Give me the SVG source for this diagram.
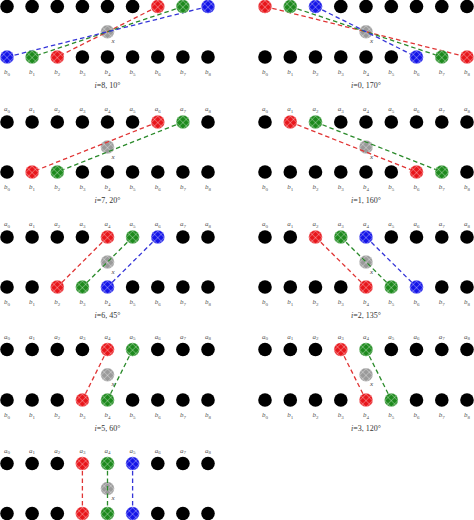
<svg xmlns="http://www.w3.org/2000/svg" xmlns:xlink="http://www.w3.org/1999/xlink" width="474" height="520" viewBox="0 0 474 520">
<style>
.lb{font-family:"Liberation Serif",serif;font-size:7px;fill:#555;text-anchor:middle;font-style:italic}
.lb tspan.s{font-size:5px;font-style:normal}
.cap{font-family:"Liberation Serif",serif;font-size:8px;fill:#333;text-anchor:middle}
.cap tspan.i{font-style:italic}
.xl{font-family:"Liberation Serif",serif;font-size:7px;fill:#444;font-style:italic}
.c{fill:none;stroke-width:1.3;stroke-dasharray:4.5 3}
.cr{stroke:#e03535}
.cg{stroke:#2a8a2a}
.cb{stroke:#3535d8}
</style>
<defs>
<pattern id="hatch" patternUnits="userSpaceOnUse" width="4.6" height="4.6" patternTransform="rotate(45)">
<line x1="0" y1="0" x2="0" y2="4.6" stroke="#fff" stroke-width="0.7" stroke-opacity="0.8"/>
<line x1="0" y1="0" x2="4.6" y2="0" stroke="#fff" stroke-width="0.7" stroke-opacity="0.8"/>
</pattern>
<circle id="k" r="6.8" fill="#000"/>
<g id="hr"><circle r="6.8" fill="#e8161b"/><circle r="6.6" fill="url(#hatch)" stroke="#fff" stroke-opacity="0.5" stroke-width="0.5"/></g>
<g id="hg"><circle r="6.8" fill="#1d8a1d"/><circle r="6.6" fill="url(#hatch)" stroke="#fff" stroke-opacity="0.5" stroke-width="0.5"/></g>
<g id="hb"><circle r="6.8" fill="#1414e8"/><circle r="6.6" fill="url(#hatch)" stroke="#fff" stroke-opacity="0.5" stroke-width="0.5"/></g>
<g id="hx"><circle r="6.8" fill="#9a9a9a"/><circle r="6.6" fill="url(#hatch)" stroke="#fff" stroke-opacity="0.5" stroke-width="0.5"/></g>
</defs>

<!-- centre x nodes -->
<g id="x-nodes">
<g id="xL1"><use href="#hx" x="107.5" y="31.75"/><text class="xl" x="111.5" y="43">x</text></g>
<g id="xR1"><use href="#hx" x="366" y="31.75"/><text class="xl" x="370" y="43">x</text></g>
<g id="xL2"><use href="#hx" x="107.5" y="147"/><text class="xl" x="111.5" y="158.5">x</text></g>
<g id="xR2"><use href="#hx" x="366" y="147"/><text class="xl" x="370" y="158.5">x</text></g>
<g id="xL3"><use href="#hx" x="107.5" y="262"/><text class="xl" x="111.5" y="273.5">x</text></g>
<g id="xR3"><use href="#hx" x="366" y="262"/><text class="xl" x="370" y="273.5">x</text></g>
<g id="xL4"><use href="#hx" x="107.5" y="374.75"/><text class="xl" x="111.5" y="386">x</text></g>
<g id="xR4"><use href="#hx" x="366" y="374.75"/><text class="xl" x="370" y="386">x</text></g>
<g id="xL5"><use href="#hx" x="107.5" y="488.5"/><text class="xl" x="111.5" y="500">x</text></g>
</g>

<!-- connectors -->
<g id="connectors">
<line class="c cr" x1="157.8" y1="6.5" x2="57.3" y2="57"/>
<line class="c cg" x1="182.9" y1="6.5" x2="32.1" y2="57"/>
<line class="c cb" x1="208" y1="6.5" x2="7" y2="57"/>
<line class="c cr" x1="265" y1="6.5" x2="467" y2="57"/>
<line class="c cg" x1="290.3" y1="6.5" x2="441.8" y2="57"/>
<line class="c cb" x1="315.5" y1="6.5" x2="416.5" y2="57"/>
<line class="c cr" x1="157.8" y1="122" x2="32.1" y2="172"/>
<line class="c cg" x1="182.9" y1="122" x2="57.3" y2="172"/>
<line class="c cr" x1="290.3" y1="122" x2="416.5" y2="172"/>
<line class="c cg" x1="315.5" y1="122" x2="441.8" y2="172"/>
<line class="c cr" x1="107.5" y1="237" x2="57.3" y2="287"/>
<line class="c cg" x1="132.6" y1="237" x2="82.4" y2="287"/>
<line class="c cb" x1="157.8" y1="237" x2="107.5" y2="287"/>
<line class="c cr" x1="315.5" y1="237" x2="366" y2="287"/>
<line class="c cg" x1="340.8" y1="237" x2="391.3" y2="287"/>
<line class="c cb" x1="366" y1="237" x2="416.5" y2="287"/>
<line class="c cr" x1="107.5" y1="349.5" x2="82.4" y2="400"/>
<line class="c cg" x1="132.6" y1="349.5" x2="107.5" y2="400"/>
<line class="c cr" x1="340.8" y1="349.5" x2="366" y2="400"/>
<line class="c cg" x1="366" y1="349.5" x2="391.3" y2="400"/>
<line class="c cr" x1="82.4" y1="463.5" x2="82.4" y2="513.5"/>
<line class="c cg" x1="107.5" y1="463.5" x2="107.5" y2="513.5"/>
<line class="c cb" x1="132.6" y1="463.5" x2="132.6" y2="513.5"/>
</g>

<!-- Panel L1 : i=8, 10° -->
<g id="panelL1">
<use href="#k" x="7" y="6.5"/><use href="#k" x="32.1" y="6.5"/><use href="#k" x="57.3" y="6.5"/><use href="#k" x="82.4" y="6.5"/><use href="#k" x="107.5" y="6.5"/><use href="#k" x="132.6" y="6.5"/>
<use id="L1a6" href="#hr" x="157.8" y="6.5"/><use id="L1a7" href="#hg" x="182.9" y="6.5"/><use id="L1a8" href="#hb" x="208" y="6.5"/>
<use id="L1b0" href="#hb" x="7" y="57"/><use id="L1b1" href="#hg" x="32.1" y="57"/><use id="L1b2" href="#hr" x="57.3" y="57"/>
<use href="#k" x="82.4" y="57"/><use href="#k" x="107.5" y="57"/><use href="#k" x="132.6" y="57"/><use href="#k" x="157.8" y="57"/><use href="#k" x="182.9" y="57"/><use href="#k" x="208" y="57"/>
<text class="lb" x="7" y="74">b<tspan class="s" dy="1.5">0</tspan></text><text class="lb" x="32.1" y="74">b<tspan class="s" dy="1.5">1</tspan></text><text class="lb" x="57.3" y="74">b<tspan class="s" dy="1.5">2</tspan></text><text class="lb" x="82.4" y="74">b<tspan class="s" dy="1.5">3</tspan></text><text class="lb" x="107.5" y="74">b<tspan class="s" dy="1.5">4</tspan></text><text class="lb" x="132.6" y="74">b<tspan class="s" dy="1.5">5</tspan></text><text class="lb" x="157.8" y="74">b<tspan class="s" dy="1.5">6</tspan></text><text class="lb" x="182.9" y="74">b<tspan class="s" dy="1.5">7</tspan></text><text class="lb" x="208" y="74">b<tspan class="s" dy="1.5">8</tspan></text>
<text class="cap" x="107.5" y="88"><tspan class="i">i</tspan>=8, 10°</text>
</g>

<!-- Panel R1 : i=0, 170° -->
<g id="panelR1">
<use id="R1a0" href="#hr" x="265" y="6.5"/><use id="R1a1" href="#hg" x="290.3" y="6.5"/><use id="R1a2" href="#hb" x="315.5" y="6.5"/>
<use href="#k" x="340.8" y="6.5"/><use href="#k" x="366" y="6.5"/><use href="#k" x="391.3" y="6.5"/><use href="#k" x="416.5" y="6.5"/><use href="#k" x="441.8" y="6.5"/><use href="#k" x="467" y="6.5"/>
<use href="#k" x="265" y="57"/><use href="#k" x="290.3" y="57"/><use href="#k" x="315.5" y="57"/><use href="#k" x="340.8" y="57"/><use href="#k" x="366" y="57"/><use href="#k" x="391.3" y="57"/>
<use id="R1b6" href="#hb" x="416.5" y="57"/><use id="R1b7" href="#hg" x="441.8" y="57"/><use id="R1b8" href="#hr" x="467" y="57"/>
<text class="lb" x="265" y="74">b<tspan class="s" dy="1.5">0</tspan></text><text class="lb" x="290.3" y="74">b<tspan class="s" dy="1.5">1</tspan></text><text class="lb" x="315.5" y="74">b<tspan class="s" dy="1.5">2</tspan></text><text class="lb" x="340.8" y="74">b<tspan class="s" dy="1.5">3</tspan></text><text class="lb" x="366" y="74">b<tspan class="s" dy="1.5">4</tspan></text><text class="lb" x="391.3" y="74">b<tspan class="s" dy="1.5">5</tspan></text><text class="lb" x="416.5" y="74">b<tspan class="s" dy="1.5">6</tspan></text><text class="lb" x="441.8" y="74">b<tspan class="s" dy="1.5">7</tspan></text><text class="lb" x="467" y="74">b<tspan class="s" dy="1.5">8</tspan></text>
<text class="cap" x="366" y="88"><tspan class="i">i</tspan>=0, 170°</text>
</g>

<!-- Panel L2 : i=7, 20° -->
<g id="panelL2">
<text class="lb" x="7" y="111">a<tspan class="s" dy="1.5">0</tspan></text><text class="lb" x="32.1" y="111">a<tspan class="s" dy="1.5">1</tspan></text><text class="lb" x="57.3" y="111">a<tspan class="s" dy="1.5">2</tspan></text><text class="lb" x="82.4" y="111">a<tspan class="s" dy="1.5">3</tspan></text><text class="lb" x="107.5" y="111">a<tspan class="s" dy="1.5">4</tspan></text><text class="lb" x="132.6" y="111">a<tspan class="s" dy="1.5">5</tspan></text><text class="lb" x="157.8" y="111">a<tspan class="s" dy="1.5">6</tspan></text><text class="lb" x="182.9" y="111">a<tspan class="s" dy="1.5">7</tspan></text><text class="lb" x="208" y="111">a<tspan class="s" dy="1.5">8</tspan></text>
<use href="#k" x="7" y="122"/><use href="#k" x="32.1" y="122"/><use href="#k" x="57.3" y="122"/><use href="#k" x="82.4" y="122"/><use href="#k" x="107.5" y="122"/><use href="#k" x="132.6" y="122"/>
<use id="L2a6" href="#hr" x="157.8" y="122"/><use id="L2a7" href="#hg" x="182.9" y="122"/><use href="#k" x="208" y="122"/>
<use href="#k" x="7" y="172"/><use id="L2b1" href="#hr" x="32.1" y="172"/><use id="L2b2" href="#hg" x="57.3" y="172"/>
<use href="#k" x="82.4" y="172"/><use href="#k" x="107.5" y="172"/><use href="#k" x="132.6" y="172"/><use href="#k" x="157.8" y="172"/><use href="#k" x="182.9" y="172"/><use href="#k" x="208" y="172"/>
<text class="lb" x="7" y="189">b<tspan class="s" dy="1.5">0</tspan></text><text class="lb" x="32.1" y="189">b<tspan class="s" dy="1.5">1</tspan></text><text class="lb" x="57.3" y="189">b<tspan class="s" dy="1.5">2</tspan></text><text class="lb" x="82.4" y="189">b<tspan class="s" dy="1.5">3</tspan></text><text class="lb" x="107.5" y="189">b<tspan class="s" dy="1.5">4</tspan></text><text class="lb" x="132.6" y="189">b<tspan class="s" dy="1.5">5</tspan></text><text class="lb" x="157.8" y="189">b<tspan class="s" dy="1.5">6</tspan></text><text class="lb" x="182.9" y="189">b<tspan class="s" dy="1.5">7</tspan></text><text class="lb" x="208" y="189">b<tspan class="s" dy="1.5">8</tspan></text>
<text class="cap" x="107.5" y="203"><tspan class="i">i</tspan>=7, 20°</text>
</g>

<!-- Panel R2 : i=1, 160° -->
<g id="panelR2">
<text class="lb" x="265" y="111">a<tspan class="s" dy="1.5">0</tspan></text><text class="lb" x="290.3" y="111">a<tspan class="s" dy="1.5">1</tspan></text><text class="lb" x="315.5" y="111">a<tspan class="s" dy="1.5">2</tspan></text><text class="lb" x="340.8" y="111">a<tspan class="s" dy="1.5">3</tspan></text><text class="lb" x="366" y="111">a<tspan class="s" dy="1.5">4</tspan></text><text class="lb" x="391.3" y="111">a<tspan class="s" dy="1.5">5</tspan></text><text class="lb" x="416.5" y="111">a<tspan class="s" dy="1.5">6</tspan></text><text class="lb" x="441.8" y="111">a<tspan class="s" dy="1.5">7</tspan></text><text class="lb" x="467" y="111">a<tspan class="s" dy="1.5">8</tspan></text>
<use href="#k" x="265" y="122"/><use id="R2a1" href="#hr" x="290.3" y="122"/><use id="R2a2" href="#hg" x="315.5" y="122"/>
<use href="#k" x="340.8" y="122"/><use href="#k" x="366" y="122"/><use href="#k" x="391.3" y="122"/><use href="#k" x="416.5" y="122"/><use href="#k" x="441.8" y="122"/><use href="#k" x="467" y="122"/>
<use href="#k" x="265" y="172"/><use href="#k" x="290.3" y="172"/><use href="#k" x="315.5" y="172"/><use href="#k" x="340.8" y="172"/><use href="#k" x="366" y="172"/><use href="#k" x="391.3" y="172"/>
<use id="R2b6" href="#hr" x="416.5" y="172"/><use id="R2b7" href="#hg" x="441.8" y="172"/><use href="#k" x="467" y="172"/>
<text class="lb" x="265" y="189">b<tspan class="s" dy="1.5">0</tspan></text><text class="lb" x="290.3" y="189">b<tspan class="s" dy="1.5">1</tspan></text><text class="lb" x="315.5" y="189">b<tspan class="s" dy="1.5">2</tspan></text><text class="lb" x="340.8" y="189">b<tspan class="s" dy="1.5">3</tspan></text><text class="lb" x="366" y="189">b<tspan class="s" dy="1.5">4</tspan></text><text class="lb" x="391.3" y="189">b<tspan class="s" dy="1.5">5</tspan></text><text class="lb" x="416.5" y="189">b<tspan class="s" dy="1.5">6</tspan></text><text class="lb" x="441.8" y="189">b<tspan class="s" dy="1.5">7</tspan></text><text class="lb" x="467" y="189">b<tspan class="s" dy="1.5">8</tspan></text>
<text class="cap" x="366" y="203"><tspan class="i">i</tspan>=1, 160°</text>
</g>

<!-- Panel L3 : i=6, 45° -->
<g id="panelL3">
<text class="lb" x="7" y="226">a<tspan class="s" dy="1.5">0</tspan></text><text class="lb" x="32.1" y="226">a<tspan class="s" dy="1.5">1</tspan></text><text class="lb" x="57.3" y="226">a<tspan class="s" dy="1.5">2</tspan></text><text class="lb" x="82.4" y="226">a<tspan class="s" dy="1.5">3</tspan></text><text class="lb" x="107.5" y="226">a<tspan class="s" dy="1.5">4</tspan></text><text class="lb" x="132.6" y="226">a<tspan class="s" dy="1.5">5</tspan></text><text class="lb" x="157.8" y="226">a<tspan class="s" dy="1.5">6</tspan></text><text class="lb" x="182.9" y="226">a<tspan class="s" dy="1.5">7</tspan></text><text class="lb" x="208" y="226">a<tspan class="s" dy="1.5">8</tspan></text>
<use href="#k" x="7" y="237"/><use href="#k" x="32.1" y="237"/><use href="#k" x="57.3" y="237"/><use href="#k" x="82.4" y="237"/>
<use id="L3a4" href="#hr" x="107.5" y="237"/><use id="L3a5" href="#hg" x="132.6" y="237"/><use id="L3a6" href="#hb" x="157.8" y="237"/>
<use href="#k" x="182.9" y="237"/><use href="#k" x="208" y="237"/>
<use href="#k" x="7" y="287"/><use href="#k" x="32.1" y="287"/>
<use id="L3b2" href="#hr" x="57.3" y="287"/><use id="L3b3" href="#hg" x="82.4" y="287"/><use id="L3b4" href="#hb" x="107.5" y="287"/>
<use href="#k" x="132.6" y="287"/><use href="#k" x="157.8" y="287"/><use href="#k" x="182.9" y="287"/><use href="#k" x="208" y="287"/>
<text class="lb" x="7" y="304">b<tspan class="s" dy="1.5">0</tspan></text><text class="lb" x="32.1" y="304">b<tspan class="s" dy="1.5">1</tspan></text><text class="lb" x="57.3" y="304">b<tspan class="s" dy="1.5">2</tspan></text><text class="lb" x="82.4" y="304">b<tspan class="s" dy="1.5">3</tspan></text><text class="lb" x="107.5" y="304">b<tspan class="s" dy="1.5">4</tspan></text><text class="lb" x="132.6" y="304">b<tspan class="s" dy="1.5">5</tspan></text><text class="lb" x="157.8" y="304">b<tspan class="s" dy="1.5">6</tspan></text><text class="lb" x="182.9" y="304">b<tspan class="s" dy="1.5">7</tspan></text><text class="lb" x="208" y="304">b<tspan class="s" dy="1.5">8</tspan></text>
<text class="cap" x="107.5" y="318"><tspan class="i">i</tspan>=6, 45°</text>
</g>

<!-- Panel R3 : i=2, 135° -->
<g id="panelR3">
<text class="lb" x="265" y="226">a<tspan class="s" dy="1.5">0</tspan></text><text class="lb" x="290.3" y="226">a<tspan class="s" dy="1.5">1</tspan></text><text class="lb" x="315.5" y="226">a<tspan class="s" dy="1.5">2</tspan></text><text class="lb" x="340.8" y="226">a<tspan class="s" dy="1.5">3</tspan></text><text class="lb" x="366" y="226">a<tspan class="s" dy="1.5">4</tspan></text><text class="lb" x="391.3" y="226">a<tspan class="s" dy="1.5">5</tspan></text><text class="lb" x="416.5" y="226">a<tspan class="s" dy="1.5">6</tspan></text><text class="lb" x="441.8" y="226">a<tspan class="s" dy="1.5">7</tspan></text><text class="lb" x="467" y="226">a<tspan class="s" dy="1.5">8</tspan></text>
<use href="#k" x="265" y="237"/><use href="#k" x="290.3" y="237"/>
<use id="R3a2" href="#hr" x="315.5" y="237"/><use id="R3a3" href="#hg" x="340.8" y="237"/><use id="R3a4" href="#hb" x="366" y="237"/>
<use href="#k" x="391.3" y="237"/><use href="#k" x="416.5" y="237"/><use href="#k" x="441.8" y="237"/><use href="#k" x="467" y="237"/>
<use href="#k" x="265" y="287"/><use href="#k" x="290.3" y="287"/><use href="#k" x="315.5" y="287"/><use href="#k" x="340.8" y="287"/>
<use id="R3b4" href="#hr" x="366" y="287"/><use id="R3b5" href="#hg" x="391.3" y="287"/><use id="R3b6" href="#hb" x="416.5" y="287"/>
<use href="#k" x="441.8" y="287"/><use href="#k" x="467" y="287"/>
<text class="lb" x="265" y="304">b<tspan class="s" dy="1.5">0</tspan></text><text class="lb" x="290.3" y="304">b<tspan class="s" dy="1.5">1</tspan></text><text class="lb" x="315.5" y="304">b<tspan class="s" dy="1.5">2</tspan></text><text class="lb" x="340.8" y="304">b<tspan class="s" dy="1.5">3</tspan></text><text class="lb" x="366" y="304">b<tspan class="s" dy="1.5">4</tspan></text><text class="lb" x="391.3" y="304">b<tspan class="s" dy="1.5">5</tspan></text><text class="lb" x="416.5" y="304">b<tspan class="s" dy="1.5">6</tspan></text><text class="lb" x="441.8" y="304">b<tspan class="s" dy="1.5">7</tspan></text><text class="lb" x="467" y="304">b<tspan class="s" dy="1.5">8</tspan></text>
<text class="cap" x="366" y="318"><tspan class="i">i</tspan>=2, 135°</text>
</g>

<!-- Panel L4 : i=5, 60° -->
<g id="panelL4">
<text class="lb" x="7" y="338.5">a<tspan class="s" dy="1.5">0</tspan></text><text class="lb" x="32.1" y="338.5">a<tspan class="s" dy="1.5">1</tspan></text><text class="lb" x="57.3" y="338.5">a<tspan class="s" dy="1.5">2</tspan></text><text class="lb" x="82.4" y="338.5">a<tspan class="s" dy="1.5">3</tspan></text><text class="lb" x="107.5" y="338.5">a<tspan class="s" dy="1.5">4</tspan></text><text class="lb" x="132.6" y="338.5">a<tspan class="s" dy="1.5">5</tspan></text><text class="lb" x="157.8" y="338.5">a<tspan class="s" dy="1.5">6</tspan></text><text class="lb" x="182.9" y="338.5">a<tspan class="s" dy="1.5">7</tspan></text><text class="lb" x="208" y="338.5">a<tspan class="s" dy="1.5">8</tspan></text>
<use href="#k" x="7" y="349.5"/><use href="#k" x="32.1" y="349.5"/><use href="#k" x="57.3" y="349.5"/><use href="#k" x="82.4" y="349.5"/>
<use id="L4a4" href="#hr" x="107.5" y="349.5"/><use id="L4a5" href="#hg" x="132.6" y="349.5"/>
<use href="#k" x="157.8" y="349.5"/><use href="#k" x="182.9" y="349.5"/><use href="#k" x="208" y="349.5"/>
<use href="#k" x="7" y="400"/><use href="#k" x="32.1" y="400"/><use href="#k" x="57.3" y="400"/>
<use id="L4b3" href="#hr" x="82.4" y="400"/><use id="L4b4" href="#hg" x="107.5" y="400"/>
<use href="#k" x="132.6" y="400"/><use href="#k" x="157.8" y="400"/><use href="#k" x="182.9" y="400"/><use href="#k" x="208" y="400"/>
<text class="lb" x="7" y="417">b<tspan class="s" dy="1.5">0</tspan></text><text class="lb" x="32.1" y="417">b<tspan class="s" dy="1.5">1</tspan></text><text class="lb" x="57.3" y="417">b<tspan class="s" dy="1.5">2</tspan></text><text class="lb" x="82.4" y="417">b<tspan class="s" dy="1.5">3</tspan></text><text class="lb" x="107.5" y="417">b<tspan class="s" dy="1.5">4</tspan></text><text class="lb" x="132.6" y="417">b<tspan class="s" dy="1.5">5</tspan></text><text class="lb" x="157.8" y="417">b<tspan class="s" dy="1.5">6</tspan></text><text class="lb" x="182.9" y="417">b<tspan class="s" dy="1.5">7</tspan></text><text class="lb" x="208" y="417">b<tspan class="s" dy="1.5">8</tspan></text>
<text class="cap" x="107.5" y="431"><tspan class="i">i</tspan>=5, 60°</text>
</g>

<!-- Panel R4 : i=3, 120° -->
<g id="panelR4">
<text class="lb" x="265" y="338.5">a<tspan class="s" dy="1.5">0</tspan></text><text class="lb" x="290.3" y="338.5">a<tspan class="s" dy="1.5">1</tspan></text><text class="lb" x="315.5" y="338.5">a<tspan class="s" dy="1.5">2</tspan></text><text class="lb" x="340.8" y="338.5">a<tspan class="s" dy="1.5">3</tspan></text><text class="lb" x="366" y="338.5">a<tspan class="s" dy="1.5">4</tspan></text><text class="lb" x="391.3" y="338.5">a<tspan class="s" dy="1.5">5</tspan></text><text class="lb" x="416.5" y="338.5">a<tspan class="s" dy="1.5">6</tspan></text><text class="lb" x="441.8" y="338.5">a<tspan class="s" dy="1.5">7</tspan></text><text class="lb" x="467" y="338.5">a<tspan class="s" dy="1.5">8</tspan></text>
<use href="#k" x="265" y="349.5"/><use href="#k" x="290.3" y="349.5"/><use href="#k" x="315.5" y="349.5"/>
<use id="R4a3" href="#hr" x="340.8" y="349.5"/><use id="R4a4" href="#hg" x="366" y="349.5"/>
<use href="#k" x="391.3" y="349.5"/><use href="#k" x="416.5" y="349.5"/><use href="#k" x="441.8" y="349.5"/><use href="#k" x="467" y="349.5"/>
<use href="#k" x="265" y="400"/><use href="#k" x="290.3" y="400"/><use href="#k" x="315.5" y="400"/><use href="#k" x="340.8" y="400"/>
<use id="R4b4" href="#hr" x="366" y="400"/><use id="R4b5" href="#hg" x="391.3" y="400"/>
<use href="#k" x="416.5" y="400"/><use href="#k" x="441.8" y="400"/><use href="#k" x="467" y="400"/>
<text class="lb" x="265" y="417">b<tspan class="s" dy="1.5">0</tspan></text><text class="lb" x="290.3" y="417">b<tspan class="s" dy="1.5">1</tspan></text><text class="lb" x="315.5" y="417">b<tspan class="s" dy="1.5">2</tspan></text><text class="lb" x="340.8" y="417">b<tspan class="s" dy="1.5">3</tspan></text><text class="lb" x="366" y="417">b<tspan class="s" dy="1.5">4</tspan></text><text class="lb" x="391.3" y="417">b<tspan class="s" dy="1.5">5</tspan></text><text class="lb" x="416.5" y="417">b<tspan class="s" dy="1.5">6</tspan></text><text class="lb" x="441.8" y="417">b<tspan class="s" dy="1.5">7</tspan></text><text class="lb" x="467" y="417">b<tspan class="s" dy="1.5">8</tspan></text>
<text class="cap" x="366" y="431"><tspan class="i">i</tspan>=3, 120°</text>
</g>

<!-- Panel L5 : i=4 -->
<g id="panelL5">
<text class="lb" x="7" y="452.5">a<tspan class="s" dy="1.5">0</tspan></text><text class="lb" x="32.1" y="452.5">a<tspan class="s" dy="1.5">1</tspan></text><text class="lb" x="57.3" y="452.5">a<tspan class="s" dy="1.5">2</tspan></text><text class="lb" x="82.4" y="452.5">a<tspan class="s" dy="1.5">3</tspan></text><text class="lb" x="107.5" y="452.5">a<tspan class="s" dy="1.5">4</tspan></text><text class="lb" x="132.6" y="452.5">a<tspan class="s" dy="1.5">5</tspan></text><text class="lb" x="157.8" y="452.5">a<tspan class="s" dy="1.5">6</tspan></text><text class="lb" x="182.9" y="452.5">a<tspan class="s" dy="1.5">7</tspan></text><text class="lb" x="208" y="452.5">a<tspan class="s" dy="1.5">8</tspan></text>
<use href="#k" x="7" y="463.5"/><use href="#k" x="32.1" y="463.5"/><use href="#k" x="57.3" y="463.5"/>
<use id="L5a3" href="#hr" x="82.4" y="463.5"/><use id="L5a4" href="#hg" x="107.5" y="463.5"/><use id="L5a5" href="#hb" x="132.6" y="463.5"/>
<use href="#k" x="157.8" y="463.5"/><use href="#k" x="182.9" y="463.5"/><use href="#k" x="208" y="463.5"/>
<use href="#k" x="7" y="513.5"/><use href="#k" x="32.1" y="513.5"/><use href="#k" x="57.3" y="513.5"/>
<use id="L5b3" href="#hr" x="82.4" y="513.5"/><use id="L5b4" href="#hg" x="107.5" y="513.5"/><use id="L5b5" href="#hb" x="132.6" y="513.5"/>
<use href="#k" x="157.8" y="513.5"/><use href="#k" x="182.9" y="513.5"/><use href="#k" x="208" y="513.5"/>
</g>
</svg>
